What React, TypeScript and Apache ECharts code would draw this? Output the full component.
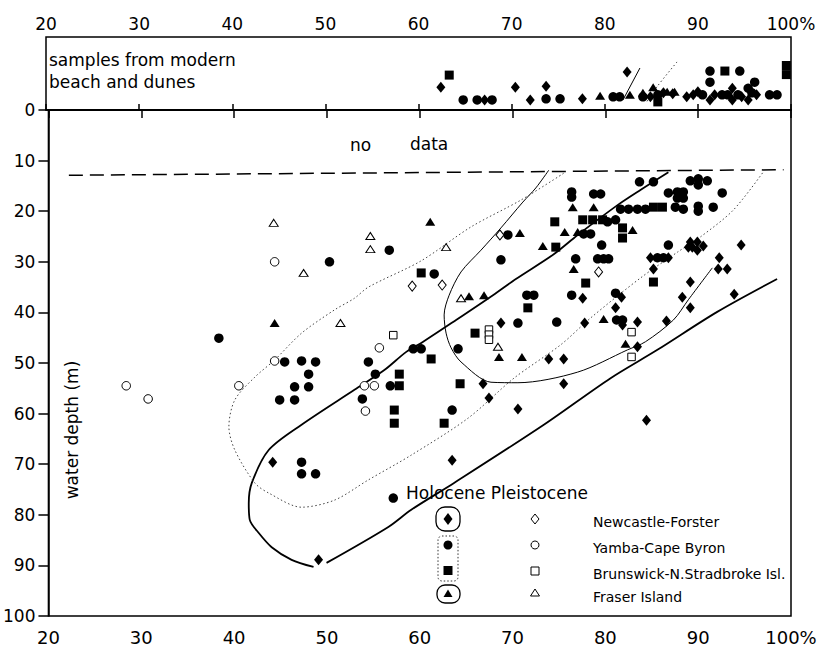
import React, { useEffect, useRef } from "react";
import * as echarts from "echarts";

const FONT = "DejaVu Sans";

// axis ranges
const xMin = 20;
const xMax = 100;
const xStep = 10;
const depthMin = 0;
const depthMax = 100;
const depthStep = 10;
const bandMax = 14.43; // height of the "beach and dunes" strip above 0 m

// ---- Holocene samples (filled symbols): [percent, water depth m]
const newcastleHolocene = [
  [68.75, 42.1], [77.77, 42.1], [77.56, 37.2], [81.74, 37.0], [81.1, 39.1], [81.85, 42.5],
  [83.46, 41.9], [86.58, 41.7], [83.46, 46.8], [89.15, 26.1], [89.91, 26.1], [89.37, 27.1],
  [90.55, 26.9], [89.91, 27.7], [88.94, 27.1], [94.63, 26.7], [84.86, 29.2], [86.79, 29.2],
  [85.18, 31.4], [92.27, 29.2], [92.16, 31.4], [93.13, 31.4], [89.15, 34.0], [88.29, 37.0],
  [89.15, 39.1], [93.88, 36.4], [73.9, 49.2], [75.51, 49.2], [66.82, 54.1], [75.51, 54.1],
  [67.46, 56.9], [70.58, 59.1], [84.43, 61.3], [63.49, 69.2], [44.16, 69.6], [49.1, 88.9],
];
const yambaHolocene = [
  [50.28, 30.0], [56.72, 27.7], [61.56, 32.4], [69.5, 24.7], [68.75, 29.6], [76.37, 16.2],
  [76.37, 17.2], [78.74, 16.6], [79.49, 16.6], [80.24, 22.1], [81.1, 21.7], [77.66, 24.5],
  [78.41, 24.5], [79.6, 26.7], [76.8, 29.4], [79.17, 29.4], [79.81, 29.4], [80.35, 29.4],
  [71.54, 36.6], [72.29, 36.6], [76.37, 36.6], [81.1, 36.2], [83.68, 14.2], [85.18, 14.2],
  [89.15, 14.0], [90.01, 13.6], [90.98, 14.0], [90.01, 14.8], [92.59, 16.4], [81.64, 19.6],
  [82.5, 19.6], [83.46, 19.6], [84.32, 19.6], [86.79, 16.4], [87.76, 16.2], [88.4, 16.2],
  [87.76, 17.4], [88.4, 17.4], [87.54, 19.2], [88.4, 19.6], [90.01, 19.0], [90.01, 20.0],
  [91.62, 19.2], [86.79, 26.7], [85.61, 29.2], [86.26, 29.2], [81.21, 41.5], [81.85, 41.5],
  [70.58, 42.1], [74.76, 41.9], [59.3, 47.2], [60.16, 47.2], [64.13, 47.2], [56.83, 54.5],
  [63.49, 59.3], [38.36, 45.1], [45.45, 49.8], [47.27, 49.6], [48.78, 49.8], [54.47, 49.8],
  [48.03, 52.2], [55.22, 52.2], [46.52, 54.7], [48.03, 54.7], [44.91, 57.3], [46.52, 57.3],
  [53.82, 57.1], [47.27, 69.6], [47.27, 71.9], [48.78, 71.9], [57.15, 76.7],
];
const brunswickHolocene = [
  [60.16, 32.2], [74.55, 22.1], [77.56, 21.7], [78.63, 21.7], [79.7, 21.7], [74.66, 27.1],
  [77.88, 34.2], [71.65, 39.1], [85.18, 19.2], [86.15, 19.2], [81.85, 23.3], [81.85, 25.3],
  [85.18, 34.0], [65.96, 44.1], [61.23, 49.2], [57.8, 52.2], [57.8, 54.5], [57.26, 59.3],
  [57.26, 61.9], [64.35, 54.1], [62.63, 61.9],
];
const fraserHolocene = [
  [61.13, 22.1], [70.79, 24.3], [76.48, 19.2], [78.74, 19.2], [75.62, 24.1], [77.02, 24.1],
  [73.26, 26.9], [76.59, 31.4], [82.93, 23.7], [65.31, 36.8], [66.93, 36.6], [79.81, 41.3],
  [82.17, 46.2], [68.54, 48.8], [71.01, 48.8], [44.37, 42.1],
];

// ---- Pleistocene samples (open symbols)
const newcastlePleistocene = [[59.19, 34.8], [62.42, 34.6], [68.64, 24.7], [79.27, 32.0]];
const yambaPleistocene = [
  [44.37, 30.0], [55.65, 47.0], [44.37, 49.6], [28.38, 54.5], [30.74, 57.1], [40.51, 54.5],
  [54.04, 54.5], [55.11, 54.5], [54.15, 59.5],
];
const brunswickPleistocene = [
  [57.15, 44.5], [67.46, 43.4], [67.46, 44.4], [67.46, 45.4], [82.82, 43.9], [82.82, 48.8],
];
const fraserPleistocene = [
  [44.27, 22.3], [47.49, 32.2], [54.68, 24.9], [54.68, 27.5], [51.46, 42.1], [62.84, 27.1],
  [64.45, 37.2], [68.43, 46.8],
];

// ---- modern beach and dune samples: [percent, height within the strip]
const beachNewcastle = [
  [62.4, 4.5], [67.1, 2.0], [70.4, 4.5], [72.0, 2.0], [73.7, 4.7], [77.6, 2.2], [82.4, 7.5],
  [84.9, 2.6], [86.3, 3.4], [87.3, 3.2], [88.8, 2.6], [89.5, 3.0], [90.0, 3.6], [91.3, 2.0],
  [91.8, 3.0], [93.7, 4.3], [93.7, 2.0], [94.7, 2.6], [95.4, 2.0], [96.3, 3.0],
];
const beachYamba = [
  [64.8, 2.0], [66.3, 2.0], [67.9, 2.0], [73.7, 2.2], [75.2, 2.2], [80.9, 2.6], [81.6, 2.6],
  [84.1, 2.6], [85.7, 3.0], [90.5, 3.0], [91.3, 7.7], [91.3, 5.5], [92.6, 3.0], [93.2, 3.0],
  [94.3, 3.0], [94.5, 7.7], [95.4, 4.3], [96.1, 5.5], [95.8, 3.4], [97.7, 3.0], [98.5, 3.0],
];
const beachBrunswick = [[63.3, 6.9], [85.7, 1.6], [92.9, 7.7], [99.5, 8.8], [99.5, 7.0]];
const beachFraser = [[79.5, 2.8], [82.7, 3.0], [84.1, 3.4], [85.2, 4.5], [86.7, 3.6], [87.5, 3.6]];

// ---- boundary lines
const noDataLine = [[22.2, 12.9], [99.2, 11.8]];
const holoceneUpper = [
  [86.79, 12.3], [83.78, 15.8], [81.31, 18.8], [77.02, 24.7], [74.44, 28.5], [70.36, 33.4],
  [67.89, 36.6], [63.92, 41.5], [60.37, 45.8], [58.55, 47.8], [56.19, 51.4], [52.97, 55.3],
  [47.27, 62.2], [43.73, 67.2], [41.91, 73.7], [41.58, 77.7], [41.69, 81.0], [42.66, 83.6],
  [44.05, 86.4], [46.2, 88.9], [48.56, 90.3],
];
const holoceneLower = [
  [49.96, 89.5], [56.62, 82.4], [59.09, 79.0], [63.7, 73.7], [73.37, 62.2], [80.56, 53.0],
  [85.61, 47.4], [92.05, 39.9], [98.5, 33.4],
];
const fraserBoundary = [
  [73.9, 11.9], [72.51, 15.4], [71.11, 18.2], [68.75, 23.3], [66.6, 27.7], [64.45, 32.0],
  [63.17, 36.6], [62.63, 40.5], [62.84, 44.1], [63.38, 47.0], [64.45, 49.8], [67.68, 53.8],
  [70.58, 53.9], [77.02, 51.8], [82.39, 47.4], [84.32, 45.8], [87.33, 41.5], [88.94, 37.5],
  [91.52, 31.2],
];
const yambaBoundary = [
  [75.51, 12.5], [70.9, 17.8], [65.53, 23.1], [60.16, 29.8], [54.47, 35.0], [52.97, 37.2],
  [50.82, 39.5], [47.27, 44.1], [44.37, 49.4], [42.23, 52.8], [40.08, 57.3], [39.44, 62.6],
  [40.08, 67.2], [42.23, 73.7], [43.73, 75.7], [47.27, 78.5], [50.82, 77.1], [54.47, 73.1],
  [59.09, 68.2], [65.21, 60.9], [70.15, 53.0], [75.19, 46.4], [78.41, 41.1], [83.78, 33.2],
  [87.76, 28.1], [90.23, 25.1], [93.77, 19.8], [96.99, 12.3],
];
const beachSolidLine = [[83.78, 8.3], [81.96, 2.0]];
const beachDottedLine = [[87.76, 9.5], [85.61, 4.6], [84.5, 1.6]];

// legend texts
const legendNames = [
  "Newcastle-Forster",
  "Yamba-Cape Byron",
  "Brunswick-N.Stradbroke Isl.",
  "Fraser Island",
];

const pctLabel = (v: number) => (v === 100 ? "100%" : String(v));

function filled(name: string, data: number[][], symbol: string, size: any, grid: number) {
  return {
    name,
    type: "scatter",
    xAxisIndex: grid,
    yAxisIndex: grid,
    data,
    symbol,
    symbolSize: size,
    itemStyle: { color: "#000", opacity: 1 },
    z: 5,
  };
}
function open(name: string, data: number[][], symbol: string, size: any) {
  return {
    name,
    type: "scatter",
    xAxisIndex: 1,
    yAxisIndex: 1,
    data,
    symbol,
    symbolSize: size,
    itemStyle: { color: "#fff", borderColor: "#000", borderWidth: 1, opacity: 1 },
    z: 5,
  };
}
function curve(name: string, data: number[][], width: number, type: any, grid: number, smooth = 0.3, color = "#000") {
  return {
    name,
    type: "line",
    xAxisIndex: grid,
    yAxisIndex: grid,
    data,
    showSymbol: false,
    symbol: "none",
    smooth,
    lineStyle: { color, width, type },
    silent: true,
    z: 3,
  };
}

function txt(text: string, x: number, y: number, size: number, align = "left", rotation = 0) {
  return {
    type: "text",
    x,
    y,
    rotation,
    style: {
      text,
      font: `${size}px "${FONT}"`,
      fill: "#000",
      textAlign: align,
      textVerticalAlign: "middle",
      align,
      verticalAlign: "middle",
    },
    z: 10,
  };
}

export default function App() {
  const ref = useRef<HTMLDivElement>(null);
  useEffect(() => {
    document.body.style.margin = "0";
    const chart = echarts.init(ref.current!, null, { renderer: "svg" });
    const axisLine = { show: true, lineStyle: { color: "#000", width: 1.5 } };
    const legendY = [519, 545, 571, 594];
    const option: any = {
      animation: false,
      backgroundColor: "#fff",
      grid: [
        { left: 46, right: 31, top: 37, height: 73, show: true, borderColor: "#000", borderWidth: 1.5, backgroundColor: "transparent" },
        { left: 46, right: 31, top: 110, bottom: 36, show: true, borderColor: "#000", borderWidth: 1.5, backgroundColor: "transparent" },
      ],
      xAxis: [
        {
          gridIndex: 0, type: "value", position: "top", min: xMin, max: xMax, interval: xStep,
          axisLine, axisTick: { show: true, length: 6, lineStyle: { color: "#000", width: 1.5 } },
          axisLabel: { formatter: pctLabel, fontSize: 17, fontFamily: FONT, color: "#000", margin: 5, showMinLabel: true, showMaxLabel: true },
          splitLine: { show: false },
        },
        {
          gridIndex: 1, type: "value", position: "bottom", min: xMin, max: xMax, interval: xStep,
          axisLine, axisTick: { show: true, length: 8, lineStyle: { color: "#000", width: 1.5 } },
          axisLabel: { formatter: pctLabel, fontSize: 18, fontFamily: FONT, color: "#000", margin: 12, showMinLabel: true, showMaxLabel: true },
          splitLine: { show: false },
        },
      ],
      yAxis: [
        { gridIndex: 0, type: "value", min: 0, max: bandMax, show: false },
        {
          gridIndex: 1, type: "value", inverse: true, min: depthMin, max: depthMax, interval: depthStep,
          axisLine, axisTick: { show: true, length: 10, lineStyle: { color: "#000", width: 1.5 } },
          axisLabel: { fontSize: 17, fontFamily: FONT, color: "#000", margin: 13, showMinLabel: true, showMaxLabel: true },
          splitLine: { show: false },
        },
      ],
      series: [
        curve("no data limit", noDataLine, 1.5, [14, 7], 1, 0),
        curve("Holocene boundary upper", holoceneUpper, 1.8, "solid", 1),
        curve("Holocene boundary lower", holoceneLower, 1.8, "solid", 1),
        curve("Fraser boundary", fraserBoundary, 1, "solid", 1),
        curve("Yamba boundary", yambaBoundary, 1, [1.5, 2.5], 1, 0.3, "#444"),
        curve("beach solid", beachSolidLine, 1, "solid", 0, 0),
        curve("beach dotted", beachDottedLine, 1, [1.5, 2.5], 0, 0.3, "#444"),
        filled("Newcastle-Forster Holocene", newcastleHolocene, "diamond", [9, 11], 1),
        filled("Yamba-Cape Byron Holocene", yambaHolocene, "circle", 9.5, 1),
        filled("Brunswick Holocene", brunswickHolocene, "rect", 9, 1),
        filled("Fraser Island Holocene", fraserHolocene, "triangle", [10, 8], 1),
        open("Newcastle-Forster Pleistocene", newcastlePleistocene, "diamond", [8, 10]),
        open("Yamba-Cape Byron Pleistocene", yambaPleistocene, "circle", 8.5),
        open("Brunswick Pleistocene", brunswickPleistocene, "rect", 7.5),
        open("Fraser Island Pleistocene", fraserPleistocene, "triangle", [9, 7]),
        filled("beach Newcastle", beachNewcastle, "diamond", [9, 11], 0),
        filled("beach Yamba", beachYamba, "circle", 9.5, 0),
        filled("beach Brunswick", beachBrunswick, "rect", 9, 0),
        filled("beach Fraser", beachFraser, "triangle", [10, 8], 0),
      ],
      graphic: [
        txt("samples from modern", 49, 60, 17),
        txt("beach and dunes", 49, 82, 17),
        txt("no", 350, 145, 17),
        txt("data", 410, 144, 17),
        txt("water depth (m)", 72, 430, 17, "center", Math.PI / 2),
        txt("Holocene Pleistocene", 406, 493, 17),
        ...legendNames.map((n, i) => txt(n, 593, legendY[i] + 3, 14)),
        // legend: Holocene filled symbols
        { type: "polygon", shape: { points: [[448, 513], [452.5, 519], [448, 525], [443.5, 519]] }, style: { fill: "#000" }, z: 10 },
        { type: "circle", shape: { cx: 448, cy: 545, r: 4.5 }, style: { fill: "#000" }, z: 10 },
        { type: "rect", shape: { x: 443.5, y: 566, width: 9, height: 9 }, style: { fill: "#000" }, z: 10 },
        { type: "polygon", shape: { points: [[448, 589.5], [452.5, 597], [443.5, 597]] }, style: { fill: "#000" }, z: 10 },
        { type: "rect", shape: { x: 436, y: 507, width: 24, height: 24, r: 9 }, style: { fill: "none", stroke: "#000", lineWidth: 1.3 }, z: 10 },
        { type: "rect", shape: { x: 438, y: 536, width: 20, height: 45, r: 4 }, style: { fill: "none", stroke: "#333", lineWidth: 1, lineDash: [1.5, 2] }, z: 10 },
        { type: "rect", shape: { x: 437, y: 585, width: 23, height: 18, r: 8 }, style: { fill: "none", stroke: "#000", lineWidth: 1.3 }, z: 10 },
        // legend: Pleistocene open symbols
        { type: "polygon", shape: { points: [[535, 514], [539, 519], [535, 524], [531, 519]] }, style: { fill: "#fff", stroke: "#000", lineWidth: 1 }, z: 10 },
        { type: "circle", shape: { cx: 535, cy: 545, r: 4 }, style: { fill: "#fff", stroke: "#000", lineWidth: 1 }, z: 10 },
        { type: "rect", shape: { x: 531, y: 567, width: 8, height: 8 }, style: { fill: "#fff", stroke: "#000", lineWidth: 1 }, z: 10 },
        { type: "polygon", shape: { points: [[535, 589], [539.5, 596], [530.5, 596]] }, style: { fill: "#fff", stroke: "#000", lineWidth: 1 }, z: 10 },
      ],
    };
    chart.setOption(option);
    return () => chart.dispose();
  }, []);
  return <div ref={ref} style={{ width: 822, height: 652, background: "#fff" }} />;
}
